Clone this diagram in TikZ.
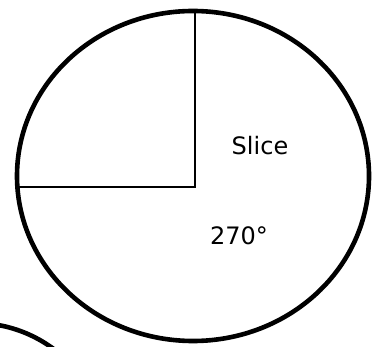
\documentclass[tikz,border=0pt]{standalone}
\usepackage{fontspec}
\setmainfont{DejaVu Sans}
\begin{document}
\begin{tikzpicture}[x=1pt,y=-1pt,
  rim/.style={line width=4.6pt},
  radius line/.style={line width=1.7pt},
  label/.style={font=\fontsize{24}{27}\selectfont, inner sep=0pt}]
\useasboundingbox (0,0) rectangle (374,347);
% main circle
\draw[rim] (193,176) ellipse [x radius=176, y radius=165];
% second circle, partly visible
\draw[rim] (-25,455) circle [radius=132];
% radii
\coordinate (c) at (195,187);
\coordinate (top) at (195,11);
\coordinate (left) at (17,187);
\draw[radius line] (top) -- (c) -- (left);
\node[label] (slice) at (260,146) {Slice};
\node[label] (angle) at (239,236) {270°};
\end{tikzpicture}
\end{document}
